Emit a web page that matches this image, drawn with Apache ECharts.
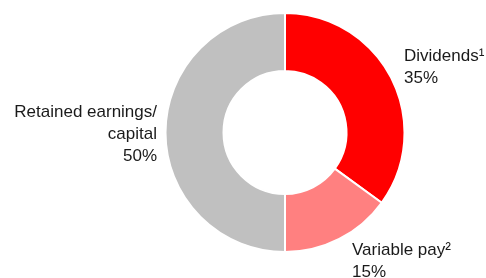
<!DOCTYPE html>
<html>
<head>
<meta charset="utf-8">
<script src="https://cdn.jsdelivr.net/npm/echarts@6/dist/echarts.min.js"></script>
<style>
  html, body { margin: 0; padding: 0; background: #fff; }
  #main { width: 486px; height: 278px; }
</style>
</head>
<body>
<div id="main"></div>
<script>
// slice names and shares (%)
var names = ['Dividends\u00b9', 'Variable pay\u00b2', 'Retained earnings/\ncapital'];
var shares = [35, 15, 50];
var colors = ['#ff0000', '#ff8080', '#c0c0c0'];

// where each label sits (left/right anchor, middle of the text block)
var labelPos = [
    { x: 404, y: 67, align: 'left' },
    { x: 352, y: 261, align: 'left' },
    { x: 157, y: 134, align: 'right' }
];

var chart = echarts.init(document.getElementById('main'));

chart.setOption({
    animation: false,
    series: [
        {
            type: 'pie',
            center: [285, 132.5],
            radius: [61.5, 119.5],
            startAngle: 90,
            clockwise: true,
            itemStyle: {
                borderColor: '#ffffff',
                borderWidth: 2
            },
            label: {
                show: true,
                position: 'outside',
                formatter: function (p) {
                    return p.name + '\n' + p.value + '%';
                },
                color: '#1a1a1a',
                fontFamily: 'Liberation Sans, Arial, sans-serif',
                fontSize: 17,
                lineHeight: 22,
                overflow: 'none',
                width: 300
            },
            labelLine: { show: false },
            labelLayout: function (params) {
                var lp = labelPos[params.dataIndex];
                return {
                    x: lp.x,
                    y: lp.y,
                    align: lp.align,
                    verticalAlign: 'middle'
                };
            },
            emphasis: { disabled: true },
            data: names.map(function (n, i) {
                return { name: n, value: shares[i], itemStyle: { color: colors[i] } };
            })
        }
    ]
});
</script>
</body>
</html>
